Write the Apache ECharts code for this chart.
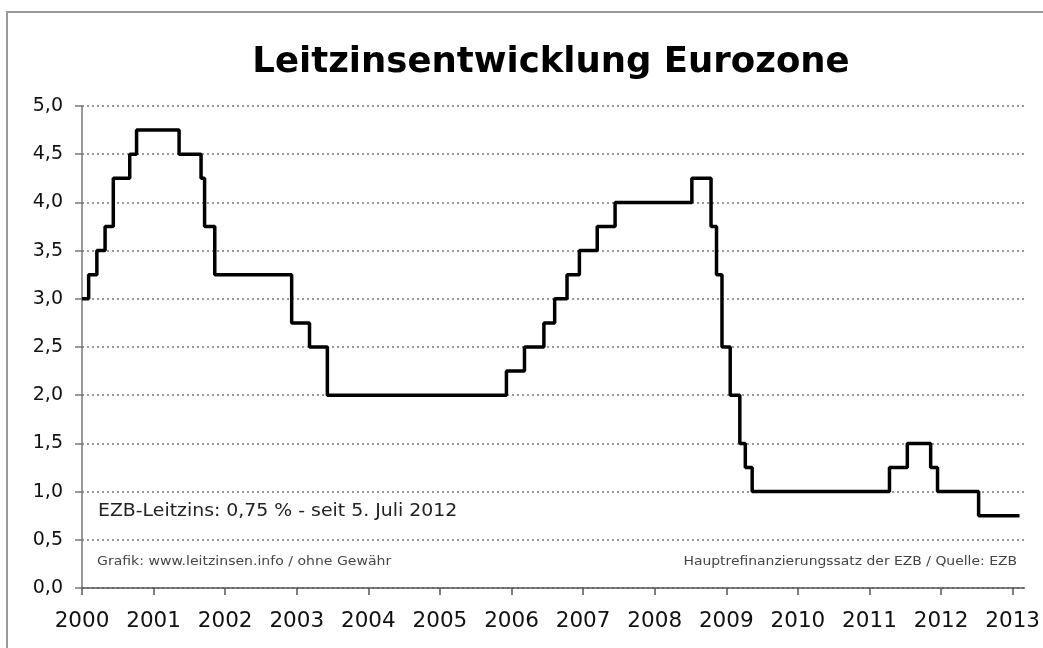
<!DOCTYPE html>
<html>
<head>
<meta charset="utf-8">
<script src="https://cdn.jsdelivr.net/npm/echarts@6/dist/echarts.min.js"></script>
<style>html,body{margin:0;padding:0;background:#fff;}#c{width:1043px;height:648px;}</style>
</head>
<body>
<div id="c"></div>
<script>
// Change dates of the ECB main refinancing rate
const dates = ['2000-01-01','2000-02-04','2000-03-17','2000-04-28','2000-06-09','2000-09-01','2000-10-06',
  '2001-05-11','2001-08-31','2001-09-18','2001-11-09','2002-12-06','2003-03-07','2003-06-06',
  '2005-12-06','2006-03-08','2006-06-15','2006-08-09','2006-10-11','2006-12-13','2007-03-14','2007-06-13',
  '2008-07-09','2008-10-15','2008-11-12','2008-12-10','2009-01-21','2009-03-11','2009-04-08','2009-05-13',
  '2011-04-13','2011-07-13','2011-11-09','2011-12-14','2012-07-11','2013-02-05'];
const rates = [3.00,3.25,3.50,3.75,4.25,4.50,4.75,
  4.50,4.25,3.75,3.25,2.75,2.50,2.00,
  2.25,2.50,2.75,3.00,3.25,3.50,3.75,4.00,
  4.25,3.75,3.25,2.50,2.00,1.50,1.25,1.00,
  1.25,1.50,1.25,1.00,0.75,0.75];
const yearTicks = [2000,2001,2002,2003,2004,2005,2006,2007,2008,2009,2010,2011,2012,2013];
const titleText = 'Leitzinsentwicklung Eurozone';
const noteText = 'EZB-Leitzins: 0,75 % - seit 5. Juli 2012';
const creditText = 'Grafik: www.leitzinsen.info / ohne Gewähr';
const sourceText = 'Hauptrefinanzierungssatz der EZB / Quelle: EZB';

// date string -> fractional year (position on the year axis)
function toYear(s) {
  const [y, m, d] = s.split('-').map(Number);
  const start = Date.UTC(y, 0, 1), end = Date.UTC(y + 1, 0, 1);
  return y + (Date.UTC(y, m - 1, d) - start) / (end - start);
}

const font = '"DejaVu Sans", Verdana, sans-serif';
const chart = echarts.init(document.getElementById('c'), null, {renderer: 'canvas'});
chart.setOption({
  animation: false,
  backgroundColor: '#fff',
  grid: {left: 82, right: 15, top: 106, bottom: 60, containLabel: false},
  xAxis: {
    type: 'value',
    min: 2000, max: toYear('2013-03-02'),
    axisLine: {show: true, onZero: false, lineStyle: {color: '#555', width: 1.5}},
    axisTick: {show: true, length: 7, lineStyle: {color: '#555', width: 1.5}, customValues: yearTicks},
    axisLabel: {fontFamily: font, fontSize: 21.5, color: '#111', margin: 22,
      customValues: yearTicks, formatter: v => String(Math.round(v))},
    splitLine: {show: false}
  },
  yAxis: {
    type: 'value', min: 0, max: 5, interval: 0.5,
    axisLine: {show: true, lineStyle: {color: '#777', width: 1.5}},
    axisTick: {show: true, length: 7, lineStyle: {color: '#777', width: 1.5}},
    axisLabel: {fontFamily: font, fontSize: 19, color: '#111', margin: 19,
      formatter: v => v.toFixed(1).replace('.', ',')},
    splitLine: {show: true, lineStyle: {color: '#777', width: 1.5, type: [2, 3]}}
  },
  series: [{
    type: 'line', step: 'end', symbol: 'none',
    lineStyle: {color: '#000', width: 3.5},
    data: dates.map((d, i) => [toYear(d), rates[i]])
  }],
  graphic: [
    {type: 'rect', shape: {x: 7, y: 12, width: 1050, height: 660}, style: {fill: null, stroke: '#999', lineWidth: 2}, silent: true, z: -1},
    {type: 'text', x: 551, y: 63, style: {text: titleText, fontFamily: font, fontWeight: 'bold', fontSize: 35.5, fill: '#000', align: 'center', verticalAlign: 'middle'}},
    {type: 'text', x: 98, y: 512, scaleX: 1.11, style: {text: noteText, fontFamily: font, fontSize: 17, fill: '#222', verticalAlign: 'middle'}},
    {type: 'text', x: 97, y: 562, scaleX: 1.08, style: {text: creditText, fontFamily: font, fontSize: 13, fill: '#444', verticalAlign: 'middle'}},
    {type: 'text', x: 1017, y: 562, scaleX: 1.07, style: {text: sourceText, fontFamily: font, fontSize: 13, fill: '#444', align: 'right', verticalAlign: 'middle'}}
  ]
});
</script>
</body>
</html>
